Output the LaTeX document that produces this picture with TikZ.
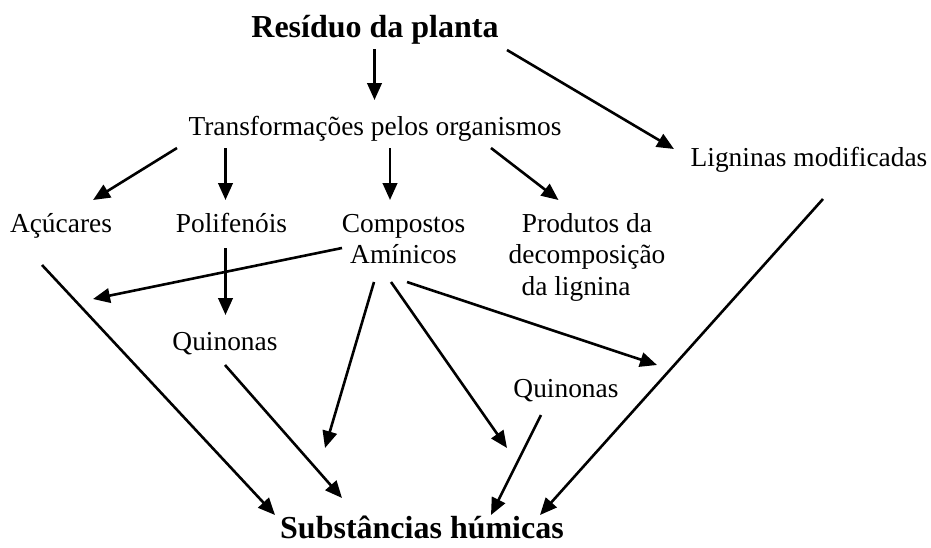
\documentclass[tikz,border=0pt]{standalone}
\usepackage{fontspec}
\setmainfont{Liberation Serif}
\usetikzlibrary{arrows.meta}
\tikzset{
  lbl/.style={font=\fontsize{27.4}{31.5}\selectfont, inner sep=0pt, anchor=base},
  ttl/.style={font=\bfseries\fontsize{32}{36}\selectfont, inner sep=0pt, anchor=base},
  arr/.style={line width=2.6pt, -{Triangle[length=17pt,width=14.5pt]}}
}
\begin{document}
\begin{tikzpicture}[x=1pt,y=-1pt]
\useasboundingbox[fill=white] (0,0) rectangle (931,547);
% texts
\node[ttl] (res) at (375,37) {Resíduo da planta};
\node[lbl] (tr) at (375,135) {Transformações pelos organismos};
\node[lbl] (lig) at (809,166) {Ligninas modificadas};
\node[lbl] (acu) at (61,232) {Açúcares};
\node[lbl] (pol) at (231.5,232) {Polifenóis};
\node[lbl] (comp) at (403.5,232) {\setlength{\tabcolsep}{0pt}\begin{tabular}[t]{c}Compostos\\Amínicos\end{tabular}};
\node[lbl] (prod) at (587,232) {\setlength{\tabcolsep}{0pt}\begin{tabular}[t]{c}Produtos da\\decomposição\\da lignina\hspace*{22pt}\end{tabular}};
\node[lbl] (quiL) at (225,350) {Quinonas};
\node[lbl] (quiR) at (566,397) {Quinonas};
\node[ttl] (sub) at (422,538) {Substâncias húmicas};
% arrow end points
\coordinate (a1s) at (374.5,49);  \coordinate (a1e) at (374.5,100);
\coordinate (a2s) at (507,50);    \coordinate (a2e) at (674,149);
\coordinate (a3s) at (177,148);   \coordinate (a3e) at (93,200);
\coordinate (a4s) at (225.5,148); \coordinate (a4e) at (225.5,200);
\coordinate (a5s) at (390,148);   \coordinate (a5e) at (390,200);
\coordinate (a6s) at (491,148);   \coordinate (a6e) at (558.5,200);
\coordinate (a7s) at (342,248);   \coordinate (a7e) at (93,299);
\coordinate (a8s) at (225.5,248); \coordinate (a8e) at (225.5,315);
\coordinate (a9s) at (42,265);    \coordinate (a9e) at (275,515);
\coordinate (a10s) at (225,365);  \coordinate (a10e) at (342,498);
\coordinate (a11s) at (374,282);  \coordinate (a11e) at (325,448);
\coordinate (a12s) at (391,282);  \coordinate (a12e) at (507,448);
\coordinate (a13s) at (407,282);  \coordinate (a13e) at (657,365);
\coordinate (a14s) at (541,415);  \coordinate (a14e) at (491,515);
\coordinate (a15s) at (823,199);  \coordinate (a15e) at (540,515);
% connectors
\draw[arr] (a1s) -- (a1e);
\draw[arr] (a2s) -- (a2e);
\draw[arr] (a3s) -- (a3e);
\draw[arr] (a4s) -- (a4e);
\draw[arr] (a5s) -- (a5e);
\draw[arr] (a6s) -- (a6e);
\draw[arr] (a7s) -- (a7e);
\draw[arr] (a8s) -- (a8e);
\draw[arr] (a9s) -- (a9e);
\draw[arr] (a10s) -- (a10e);
\draw[arr] (a11s) -- (a11e);
\draw[arr] (a12s) -- (a12e);
\draw[arr] (a13s) -- (a13e);
\draw[arr] (a14s) -- (a14e);
\draw[arr] (a15s) -- (a15e);
\end{tikzpicture}
\end{document}
